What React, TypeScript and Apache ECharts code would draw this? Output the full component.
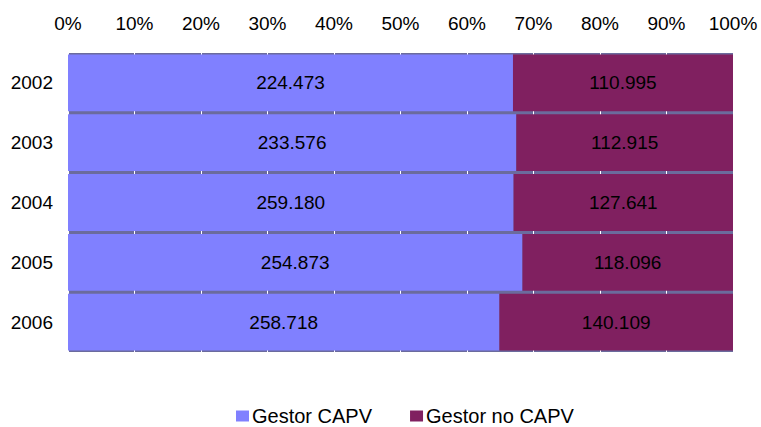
import React, { useEffect, useRef } from "react";
import * as echarts from "echarts";

const years = ["2002", "2003", "2004", "2005", "2006"];
const gestorCAPV = [224473, 233576, 259180, 254873, 258718];
const gestorNoCAPV = [110995, 112915, 127641, 118096, 140109];
const seriesNames = ["Gestor CAPV", "Gestor no CAPV"];
const xTicks = [0, 10, 20, 30, 40, 50, 60, 70, 80, 90, 100];

const fmt = (n: number) => n.toString().replace(/\B(?=(\d{3})+(?!\d))/g, ".");

export default function App() {
  const ref = useRef<HTMLDivElement>(null);
  useEffect(() => {
    if (!ref.current) return;
    const chart = echarts.init(ref.current, undefined, { renderer: "svg" });
    const totals = years.map((_, i) => gestorCAPV[i] + gestorNoCAPV[i]);
    const mk = (arr: number[]) =>
      arr.map((v, i) => ({ value: (v / totals[i]) * 100, raw: v }));
    const font = "Liberation Sans, Arial, sans-serif";
    chart.setOption({
      animation: false,
      textStyle: { fontFamily: font },
      grid: {
        left: 68,
        right: 28,
        top: 53,
        bottom: 75,
        show: true,
        backgroundColor: "#6b6b9d",
        borderWidth: 0,
      },
      legend: {
        top: 406,
        left: 236,
        padding: 0,
        itemWidth: 13,
        itemHeight: 11,
        itemGap: 38,
        icon: "rect",
        textStyle: {
          fontSize: 20,
          lineHeight: 20,
          color: "#000",
          fontFamily: font,
          padding: [0, 0, 0, -2],
        },
        data: seriesNames,
      },
      xAxis: {
        type: "value",
        position: "top",
        min: 0,
        max: 100,
        interval: 10,
        axisLine: { show: false },
        axisTick: { show: false },
        splitLine: { show: true, lineStyle: { color: "#ffffff", width: 1 } },
        axisLabel: {
          formatter: (v: number) => (xTicks.includes(v) ? v + "%" : ""),
          fontSize: 19,
          color: "#000",
          margin: 20,
          fontFamily: font,
        },
      },
      yAxis: {
        type: "category",
        data: years,
        inverse: true,
        axisLine: { show: false },
        axisTick: { show: false },
        axisLabel: { fontSize: 19, color: "#000", margin: 15, fontFamily: font },
      },
      series: [
        {
          name: seriesNames[0],
          type: "bar",
          stack: "t",
          barCategoryGap: "5%",
          itemStyle: { color: "#8080ff" },
          label: {
            show: true,
            position: "inside",
            color: "#000",
            fontSize: 19,
            fontFamily: font,
            formatter: (p: any) => fmt(p.data.raw),
          },
          data: mk(gestorCAPV),
        },
        {
          name: seriesNames[1],
          type: "bar",
          stack: "t",
          barCategoryGap: "5%",
          itemStyle: { color: "#802060" },
          label: {
            show: true,
            position: "inside",
            color: "#000",
            fontSize: 19,
            fontFamily: font,
            formatter: (p: any) => fmt(p.data.raw),
          },
          data: mk(gestorNoCAPV),
        },
      ],
    });
    return () => chart.dispose();
  }, []);
  return <div ref={ref} style={{ width: 761, height: 427, position: "absolute", left: 0, top: 0 }} />;
}
